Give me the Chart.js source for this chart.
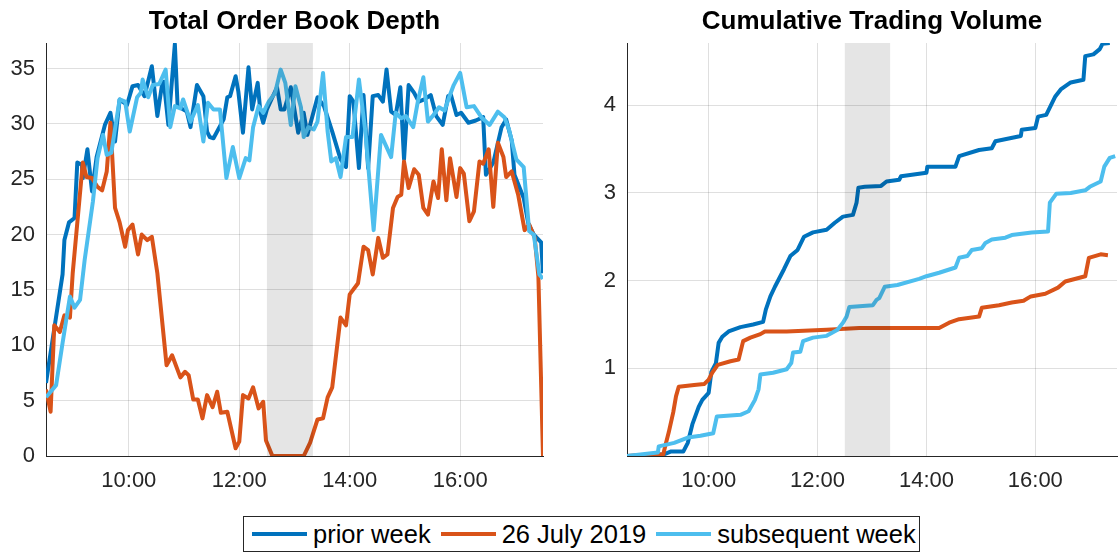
<!DOCTYPE html>
<html>
<head>
<meta charset="utf-8">
<script src="https://cdn.jsdelivr.net/npm/chart.js@4.4.1/dist/chart.umd.min.js"></script>
<style>
  body { margin: 0; background: #fff; font-family: "Liberation Sans", Arial, sans-serif; }
  #wrap { position: relative; width: 1118px; height: 552px; overflow: hidden; }
  #depthChart { position: absolute; left: 0; top: 0; }
  #volumeChart { position: absolute; left: 560px; top: 0; }
  #legend {
    position: absolute; left: 243px; top: 516px; width: 667px; height: 34px;
    border: 1px solid #262626; background: #fff;
    display: flex; align-items: center; padding-left: 8px; box-sizing: content-box;
    font-size: 25.5px; color: #000; white-space: nowrap;
  }
  .item { display: flex; align-items: center; margin-right: 10px; }
  .swatch { width: 55px; height: 4px; margin-right: 6px; }
</style>
</head>
<body>
<div id="wrap">
  <canvas id="depthChart" width="548" height="500"></canvas>
  <canvas id="volumeChart" width="558" height="500"></canvas>
  <div id="legend"></div>
</div>
<script>
// series labels and colours
const seriesNames = ["prior week", "26 July 2019", "subsequent week"];
const seriesColors = ["#0072BD", "#D95319", "#4DBEEE"];

// shaded lunch break
const breakStart = "12:30";
const breakEnd = "13:20";

// x ticks (hours)
const hourTicks = [10, 12, 14, 16];
const depthTicks = [0, 5, 10, 15, 20, 25, 30, 35];
const volumeTicks = [1, 2, 3, 4];

// Total Order Book Depth
const depthPriorT = ["8:30","8:48","8:50","8:55","9:01","9:04","9:09","9:10","9:15","9:20","9:25","9:34","9:40","9:45","9:50","9:58",
  "10:04","10:10","10:17","10:25","10:31","10:36","10:38","10:43","10:50","10:53","11:03","11:07","11:14","11:21","11:25","11:28",
  "11:32","11:43","11:47","11:50","11:56","11:59","12:04","12:10","12:14","12:20","12:23","12:26","12:30","12:36","12:41","12:45",
  "12:49","12:56","13:04","13:10","13:14","13:25","13:32","13:41","13:50","13:56","14:00","14:04","14:10","14:15","14:20","14:25",
  "14:31","14:36","14:40","14:45","14:50","14:55","14:59","15:04","15:10","15:15","15:21","15:28","15:34","15:41","15:47","15:50",
  "15:56","16:01","16:09","16:17","16:25","16:28","16:36","16:45","16:50","16:56","16:59","17:09","17:14","17:20","17:28","17:30"];
const depthPriorV = [6.6,16.4,19.5,21.1,21.5,26.5,26.3,25.1,27.7,23.9,27.0,29.9,31.0,28.4,32.2,31.7,
  33.4,33.5,32.5,35.2,30.7,33.5,33.8,29.9,37.2,31.6,31.1,29.7,33.5,32.5,29.3,28.8,
  28.7,30.4,32.4,32.5,34.3,32.9,29.2,35.1,31.3,33.7,31.0,30.1,31.3,32.4,33.3,31.3,
  31.3,33.3,29.2,31.0,29.0,32.4,31.6,29.3,26.8,26.1,32.5,32.0,26.0,32.6,26.0,32.5,
  32.6,32.0,34.9,31.1,30.8,33.3,26.8,33.5,32.8,32.0,32.2,32.6,30.7,29.9,32.5,32.6,
  30.8,31.0,30.1,30.3,30.6,25.4,26.5,29.7,30.4,28.5,25.4,23.3,21.0,20.0,19.3,16.5];

const depthJulyT = ["8:30","8:35","8:39","8:45","8:50","8:56","8:59","9:10","9:14","9:20","9:26","9:31","9:36","9:40","9:45","9:50",
  "9:56","9:59","10:04","10:10","10:14","10:20","10:25","10:31","10:41","10:47","10:56","11:01","11:05","11:10","11:15","11:20",
  "11:25","11:31","11:36","11:40","11:47","11:56","12:00","12:04","12:10","12:15","12:21","12:26","12:29","12:36","13:10","13:17",
  "13:25","13:31","13:36","13:41","13:50","13:56","14:00","14:09","14:15","14:20","14:25","14:31","14:36","14:41","14:47","14:52",
  "14:56","14:59","15:04","15:10","15:15","15:20","15:25","15:31","15:36","15:40","15:45","15:49","15:56","16:00","16:04","16:10",
  "16:15","16:21","16:25","16:31","16:36","16:41","16:47","16:50","16:56","17:03","17:10","17:15","17:21","17:25","17:30"];
const depthJulyV = [6.0,4.0,11.8,11.2,12.7,12.5,16.5,26.5,25.2,25.1,24.3,24.0,25.7,30.1,22.4,21.1,
  18.9,20.4,20.9,18.2,20.0,19.5,19.8,16.5,8.2,9.1,7.1,7.6,7.3,5.1,5.1,3.4,
  5.5,4.4,5.8,3.9,4.0,0.7,1.3,5.5,5.2,6.2,4.3,4.9,1.4,0,0,1.2,
  3.3,3.4,5.3,6.2,12.5,11.8,14.6,15.6,18.9,18.6,16.4,19.7,17.9,18.2,22.4,23.4,
  23.6,26.6,24.2,25.9,25.4,22.4,21.8,24.8,23.3,27.7,23.1,26.9,23.4,26.0,25.5,21.2,
  22.1,26.6,26.4,27.7,22.5,28.3,27.0,25.2,25.7,23.6,20.4,20.9,19.7,16.2,0];

const depthNextT = ["8:30","8:39","8:41","8:48","8:56","9:01","9:07","9:12","9:21","9:26","9:32","9:36","9:41","9:50","9:56","10:01",
  "10:09","10:13","10:15","10:21","10:26","10:33","10:40","10:45","10:50","10:56","10:59","11:07","11:15","11:21","11:26","11:32",
  "11:39","11:46","11:53","12:00","12:07","12:11","12:15","12:21","12:26","12:32","12:39","12:45","12:50","12:56","13:01","13:07",
  "13:10","13:15","13:21","13:25","13:31","13:36","13:40","13:45","13:50","13:56","14:03","14:10","14:17","14:26","14:34","14:45",
  "14:50","14:56","15:01","15:09","15:14","15:20","15:25","15:31","15:37","15:43","15:48","15:53","16:00","16:07","16:15","16:23",
  "16:32","16:41","16:48","16:53","17:01","17:09","17:15","17:20","17:26","17:30"];
const depthNextV = [5.3,6.2,6.4,10.2,14.4,13.4,14.1,17.7,23.0,26.9,29.0,27.2,27.4,32.2,32.0,29.3,
  32.4,32.8,34.0,32.4,33.5,33.6,34.9,29.7,31.6,31.4,32.2,30.2,31.7,28.4,31.9,31.3,
  31.3,25.1,27.9,25.1,26.9,26.7,29.7,31.6,31.0,32.0,32.8,34.9,33.7,29.9,33.4,31.5,
  28.8,29.7,29.5,30.2,34.6,29.3,26.6,26.9,25.2,28.8,28.8,34.0,29.3,20.4,29.0,27.0,
  31.0,30.5,30.7,29.7,32.0,34.2,30.2,30.8,31.5,31.2,32.4,33.5,34.6,31.5,31.6,30.6,
  29.9,31.1,30.6,29.5,26.8,26.1,20.3,20.0,16.4,16.0];

// Cumulative Trading Volume
const volPriorT = ["8:30","9:11","9:18","9:32","9:37","9:42","9:49","9:53","10:00","10:03","10:08","10:11","10:15","10:22","10:35","10:49",
  "11:00","11:03","11:08","11:13","11:23","11:30","11:38","11:45","11:55","12:10","12:19","12:28","12:39","12:43","12:45","12:52",
  "13:10","13:16","13:30","13:32","14:00","14:01","14:32","14:36","14:58","15:12","15:16","15:44","15:45","16:00","16:03","16:12",
  "16:22","16:28","16:39","16:53","16:55","17:04","17:11","17:14","17:22"];
const volPriorV = [0,0.02,0.05,0.05,0.15,0.36,0.56,0.64,0.72,0.96,1.06,1.29,1.36,1.42,1.47,1.50,
  1.53,1.67,1.82,1.93,2.13,2.28,2.35,2.50,2.55,2.58,2.66,2.73,2.75,2.89,3.06,3.07,
  3.08,3.13,3.15,3.19,3.23,3.30,3.30,3.42,3.49,3.51,3.59,3.65,3.72,3.74,3.87,3.89,
  4.10,4.18,4.26,4.29,4.56,4.58,4.64,4.70,4.71];

const volJulyT = ["8:30","9:10","9:13","9:16","9:21","9:24","9:27","9:44","9:55","10:00","10:04","10:10","10:24","10:33","10:38","10:46",
  "10:57","11:02","11:26","12:10","12:46","14:14","14:25","14:36","14:58","15:01","15:20","15:34","15:47","15:55","16:11","16:25",
  "16:33","16:55","16:59","17:12","17:20"];
const volJulyV = [0,0.02,0.15,0.27,0.50,0.68,0.79,0.81,0.82,0.87,0.95,1.04,1.08,1.10,1.31,1.35,
  1.39,1.42,1.42,1.44,1.46,1.46,1.52,1.56,1.59,1.69,1.72,1.75,1.77,1.82,1.85,1.92,
  1.99,2.05,2.26,2.30,2.29];

const volNextT = ["8:30","9:04","9:05","9:22","9:37","9:51","10:05","10:09","10:35","10:44","10:51","10:55","10:57","11:11","11:26","11:31",
  "11:33","11:41","11:44","11:55","12:10","12:17","12:22","12:28","12:32","12:35","13:01","13:05","13:08","13:14","13:28","13:52",
  "14:00","14:14","14:32","14:36","14:45","14:50","15:01","15:05","15:12","15:27","15:34","15:56","16:14","16:16","16:23","16:39",
  "16:55","17:00","17:12","17:16","17:22","17:28"];
const volNextV = [0,0.04,0.11,0.15,0.21,0.23,0.26,0.45,0.47,0.51,0.64,0.76,0.93,0.95,0.99,1.06,
  1.18,1.19,1.31,1.35,1.37,1.41,1.44,1.52,1.59,1.70,1.72,1.78,1.80,1.93,1.95,2.02,
  2.05,2.09,2.15,2.26,2.28,2.35,2.37,2.43,2.47,2.49,2.52,2.55,2.56,2.89,2.99,3.00,
  3.03,3.07,3.13,3.30,3.40,3.42];

function toHours(t) {
  const [h, m] = t.split(":").map(Number);
  return h + m / 60;
}

function points(times, values) {
  return times.map((t, i) => ({ x: toHours(t), y: values[i] }));
}

const FONT = "'Liberation Sans', Arial, Helvetica, sans-serif";
const AXIS = "#262626";

// grey box drawn on top of the lines, like the original
const shadePlugin = {
  id: "shade",
  afterDatasetsDraw(chart) {
    const { ctx, chartArea, scales } = chart;
    const x0 = scales.x.getPixelForValue(toHours(breakStart));
    const x1 = scales.x.getPixelForValue(toHours(breakEnd));
    ctx.save();
    ctx.fillStyle = "rgba(0,0,0,0.1)";
    ctx.fillRect(x0, chartArea.top, x1 - x0, chartArea.bottom - chartArea.top);
    ctx.restore();
  },
};

// title centred over the plot area rather than the whole canvas
const axesTitlePlugin = {
  id: "axesTitle",
  afterDraw(chart, args, opts) {
    const { ctx, chartArea } = chart;
    ctx.save();
    ctx.font = "bold 26px " + FONT;
    ctx.fillStyle = "#000";
    ctx.textAlign = "center";
    ctx.textBaseline = "middle";
    ctx.fillText(opts.text, (chartArea.left + chartArea.right) / 2, 22);
    ctx.restore();
  },
};

function makeChart(id, title, seriesData, yMax, yTicks, yWidth, padRight) {
  const ctx = document.getElementById(id).getContext("2d");
  return new Chart(ctx, {
    type: "line",
    data: {
      datasets: seriesData.map((d, i) => ({
        label: seriesNames[i],
        data: d,
        borderColor: seriesColors[i],
        borderWidth: 4,
        borderJoinStyle: "round",
        pointRadius: 0,
        tension: 0,
        fill: false,
        order: 3 - i,
      })),
    },
    options: {
      responsive: false,
      animation: false,
      events: [],
      layout: { padding: { left: 0, right: padRight, top: 43, bottom: 0 } },
      plugins: {
        legend: { display: false },
        tooltip: { enabled: false },
        title: { display: false },
        axesTitle: { text: title },
      },
      scales: {
        x: {
          type: "linear",
          min: 8.5,
          max: 17.5,
          afterBuildTicks: (s) => { s.ticks = hourTicks.map((v) => ({ value: v })); },
          afterFit: (s) => { s.height = 44; },
          grid: { color: "rgba(38,38,38,0.15)", drawTicks: false },
          border: { color: AXIS, width: 1 },
          ticks: {
            color: AXIS,
            padding: 12,
            maxRotation: 0,
            font: { family: FONT, size: 22 },
            callback: (v) => v + ":00",
          },
        },
        y: {
          min: 0,
          max: yMax,
          afterBuildTicks: (s) => { s.ticks = yTicks.map((v) => ({ value: v })); },
          afterFit: (s) => { s.width = yWidth; },
          grid: { color: "rgba(38,38,38,0.15)", drawTicks: false },
          border: { color: AXIS, width: 1 },
          ticks: {
            color: AXIS,
            padding: 11,
            font: { family: FONT, size: 22 },
          },
        },
      },
    },
    plugins: [shadePlugin, axesTitlePlugin],
  });
}

makeChart("depthChart", "Total Order Book Depth",
  [points(depthPriorT, depthPriorV), points(depthJulyT, depthJulyV), points(depthNextT, depthNextV)],
  37.3, depthTicks, 46, 5);

makeChart("volumeChart", "Cumulative Trading Volume",
  [points(volPriorT, volPriorV), points(volJulyT, volJulyV), points(volNextT, volNextV)],
  4.71, volumeTicks, 67, 1);

// shared legend
const legend = document.getElementById("legend");
seriesNames.forEach((name, i) => {
  const item = document.createElement("div");
  item.className = "item";
  item.innerHTML = `<span class="swatch" style="background:${seriesColors[i]}"></span><span>${name}</span>`;
  legend.appendChild(item);
});
</script>
</body>
</html>
